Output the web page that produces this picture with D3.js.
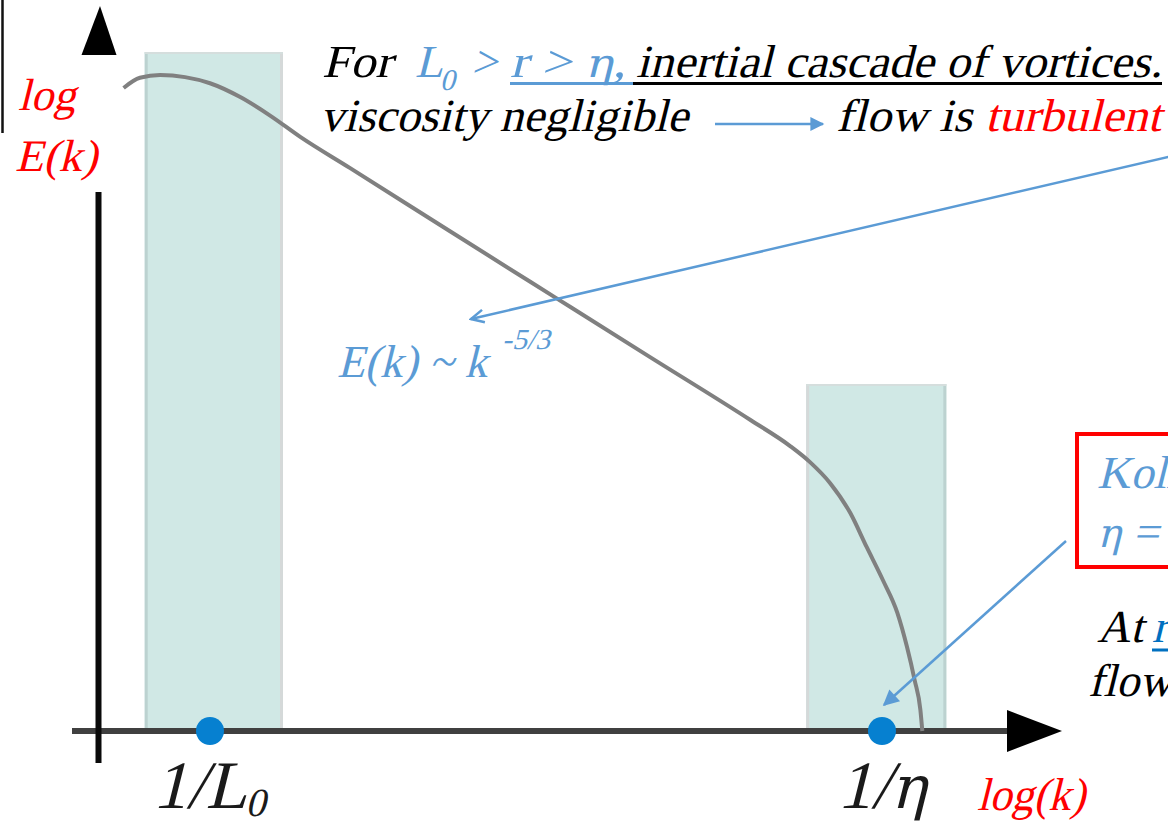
<!DOCTYPE html>
<html>
<head>
<meta charset="utf-8">
<script src="https://cdn.jsdelivr.net/npm/d3@7"></script>
</head>
<body style="margin:0">
<div class="canvas"></div>
<script>
// energy spectrum: log k (1/L0 = 1, 1/eta = 8) and log E(k)
const logK = [0.10, 0.27, 0.48, 0.74, 1.00, 1.31, 1.63, 1.94, 2.46, 3.50, 4.59, 5.58,
  6.63, 7.04, 7.25, 7.46, 7.67, 7.84, 8.01, 8.16, 8.26, 8.34, 8.40, 8.42]
const logE = [9.47, 9.62, 9.66, 9.63, 9.54, 9.34, 9.06, 8.75, 8.29, 7.36, 6.39, 5.51,
  4.58, 4.20, 3.96, 3.65, 3.21, 2.71, 2.22, 1.74, 1.24, 0.75, 0.31, 0]

// shaded ranges (energy containing / dissipation)
const bandFrom = [0.32, 7.21]
const bandTo = [1.76, 8.67]
const bandTop = [10, 5.11]

// marked wavenumbers on the k axis
const tickK = [1, 8]
const tickMain = ['1/L', '1/η']
const tickSub = ['0', '']

const width = 1168
const height = 824
const blue = '#5b9bd5'
const red = '#ff0000'
const fontName = 'Liberation Serif'
// greek letters in their own font
const greekFont = 'DejaVu Serif'
const greek = /[\u0370-\u03ff]/
// upright serif slanted by hand, the italic face falls back to a sans here
const slant = 'skewX(-14)'

const svg = d3.select('.canvas')
    .append('svg')
    .attr('width', width)
    .attr('height', height)

const x = d3.scaleLinear().domain([1, 8]).range([210, 882])
const y = d3.scaleLinear().domain([0, 10]).range([731, 52])

// arrow heads
const defs = svg.append('defs')
function marker(id, w, h, open) {
    const m = defs.append('marker')
        .attr('id', id)
        .attr('viewBox', '0 0 10 10')
        .attr('refX', 9).attr('refY', 5)
        .attr('markerWidth', w).attr('markerHeight', h)
        .attr('markerUnits', 'userSpaceOnUse')
        .attr('orient', 'auto')
    if (open) {
        m.append('path').attr('d', 'M1,1L9,5L1,9')
            .attr('fill', 'none').attr('stroke', blue).attr('stroke-width', 1.6)
    } else {
        m.append('path').attr('d', 'M0,0L10,5L0,10Z').attr('fill', blue)
    }
}
marker('tri', 16, 14, false)
marker('tri2', 20, 16, false)
marker('open', 16, 16, true)

// splits a string into latin / greek runs
function fillText(t, str, size) {
    str.split(/([\u0370-\u03ff]+)/).filter(s => s).forEach(s => {
        const sp = t.append('tspan').text(s)
        if (greek.test(s)) sp.attr('font-family', greekFont).attr('font-size', Math.round(size * 0.88))
    })
}

// corner of a box cut off at the top left
svg.append('line')
    .attr('x1', 2.5).attr('x2', 2.5).attr('y1', 0).attr('y2', 133)
    .attr('stroke', '#111').attr('stroke-width', 2.5)

// shaded bands
const bands = d3.range(bandFrom.length).map(i => ({from: bandFrom[i], to: bandTo[i], top: bandTop[i]}))
svg.selectAll('rect.band')
    .data(bands)
    .enter()
    .append('rect')
    .attr('class', 'band')
    .attr('x', d => x(d.from))
    .attr('y', d => y(d.top))
    .attr('width', d => x(d.to) - x(d.from))
    .attr('height', d => y(0) - y(d.top))
    .attr('fill', '#d0e8e5')
// band edges: one side darker, the other light grey
svg.selectAll('line.edgeL')
    .data(bands)
    .enter()
    .append('line')
    .attr('x1', d => x(d.from) + 1.5).attr('x2', d => x(d.from) + 1.5)
    .attr('y1', d => y(d.top)).attr('y2', y(0))
    .attr('stroke', (d, i) => i === 0 ? '#bcd2d0' : '#d5d9d9')
    .attr('stroke-width', 3)
svg.selectAll('line.edgeR')
    .data(bands)
    .enter()
    .append('line')
    .attr('x1', d => x(d.to) - 1.5).attr('x2', d => x(d.to) - 1.5)
    .attr('y1', d => y(d.top)).attr('y2', y(0))
    .attr('stroke', (d, i) => i === 0 ? '#d5d9d9' : '#bcd2d0')
    .attr('stroke-width', 3)
svg.selectAll('line.edgeT')
    .data(bands)
    .enter()
    .append('line')
    .attr('x1', d => x(d.from)).attr('x2', d => x(d.to))
    .attr('y1', d => y(d.top) + 1).attr('y2', d => y(d.top) + 1)
    .attr('stroke', '#d5dedd')
    .attr('stroke-width', 2)

// axes
const axisX0 = 72
const axisX1 = 1010
const yAxisX = 98.5
svg.append('line')
    .attr('x1', axisX0).attr('x2', axisX1)
    .attr('y1', y(0)).attr('y2', y(0))
    .attr('stroke', '#404040').attr('stroke-width', 6)
svg.append('path')
    .attr('d', `M${axisX1 - 3},${y(0) - 21}L1062,${y(0)}L${axisX1 - 3},${y(0) + 21}Z`)
    .attr('fill', '#000')
svg.append('line')
    .attr('x1', yAxisX).attr('x2', yAxisX)
    .attr('y1', 192).attr('y2', 763)
    .attr('stroke', '#0a0a0a').attr('stroke-width', 6)
svg.append('path')
    .attr('d', `M${yAxisX - 17},55L${yAxisX + 1.5},6L${yAxisX + 18},55Z`)
    .attr('fill', '#000')

// spectrum curve
const line = d3.line()
    .x(d => x(d[0]))
    .y(d => y(d[1]))
    .curve(d3.curveMonotoneX)
svg.append('path')
    .datum(d3.zip(logK, logE))
    .attr('d', line)
    .attr('fill', 'none')
    .attr('stroke', '#808080')
    .attr('stroke-width', 4)

// marked points on the k axis
svg.selectAll('circle')
    .data(tickK)
    .enter()
    .append('circle')
    .attr('cx', d => x(d))
    .attr('cy', y(0))
    .attr('r', 14)
    .attr('fill', '#0680d0')

svg.selectAll('text.tick')
    .data(tickK)
    .enter()
    .append('text')
    .attr('class', 'tick')
    .attr('transform', d => `translate(${x(d)},808) ${slant}`)
    .attr('text-anchor', 'middle')
    .attr('font-family', fontName)
    .attr('font-size', 68)
    .attr('fill', '#1a1a1a')
    .each(function(d, i) {
        const t = d3.select(this)
        fillText(t, tickMain[i], 68)
        if (tickSub[i]) t.append('tspan').attr('font-size', 40).attr('dy', 8).text(tickSub[i])
    })

// helper for a piece of text
function put(str, px, py, opts = {}) {
    const size = opts.size || 46
    const t = svg.append('text')
        .attr('transform', `translate(${px},${py}) ${slant}`)
        .attr('font-family', fontName)
        .attr('font-size', size)
        .attr('fill', opts.color || '#000')
    fillText(t, str, size)
    if (opts.len) t.attr('textLength', opts.len).attr('lengthAdjust', 'spacingAndGlyphs')
    return t
}
function underline(x1, x2, py, color) {
    svg.append('line')
        .attr('x1', x1).attr('x2', x2).attr('y1', py).attr('y2', py)
        .attr('stroke', color).attr('stroke-width', 3)
}

// axis titles
put('log', 18, 110, {color: red, size: 45})
put('E(k)', 15, 171, {color: red, size: 45, len: 82})
put('log(k)', 977, 810, {color: red, len: 108})

// top annotation
put('For', 322, 77, {len: 70})
const l0 = put('L', 415, 77, {color: blue})
l0.append('tspan').attr('font-size', 30).attr('dy', 13).text('0')
put('>', 471, 77, {color: blue})
put('r > η,', 510, 77, {color: blue, len: 116})
underline(510, 633, 83.5, blue)
put('inertial cascade of vortices.', 636, 77, {len: 526})
underline(633, 1162, 83.5, '#000')

put('viscosity negligible', 320, 131, {len: 368})
svg.append('line')
    .attr('x1', 715).attr('x2', 823).attr('y1', 124).attr('y2', 124)
    .attr('stroke', blue).attr('stroke-width', 2.5)
    .attr('marker-end', 'url(#tri)')
put('flow is', 836, 131, {len: 136})
put('turbulent', 985, 131, {color: red, len: 176})

// inertial range arrow and power law
svg.append('line')
    .attr('x1', 1172).attr('y1', 156).attr('x2', 471).attr('y2', 319)
    .attr('stroke', blue).attr('stroke-width', 2.5)
    .attr('marker-end', 'url(#open)')
put('E(k) ~ k', 337, 377, {color: blue, len: 150})
put('-5/3', 502, 349, {color: blue, size: 29, len: 48})

// Kolmogorov scale box (runs off the right edge)
svg.append('rect')
    .attr('x', 1077).attr('y', 434)
    .attr('width', 200).attr('height', 133)
    .attr('fill', 'none')
    .attr('stroke', red).attr('stroke-width', 4)
put('Kolmogorov scale', 1097, 488, {color: blue})
put('η = (ν³/ε)', 1097, 547, {color: blue})
svg.append('line')
    .attr('x1', 1066).attr('y1', 541).attr('x2', 884).attr('y2', 705)
    .attr('stroke', blue).attr('stroke-width', 2.5)
    .attr('marker-end', 'url(#tri2)')

put('At', 1097, 642)
put('r < η, viscosity dominates', 1152, 642, {color: '#0070c0'})
underline(1152, 1200, 650, '#0070c0')
put('flow is laminar', 1088, 696)
</script>
</body>
</html>
